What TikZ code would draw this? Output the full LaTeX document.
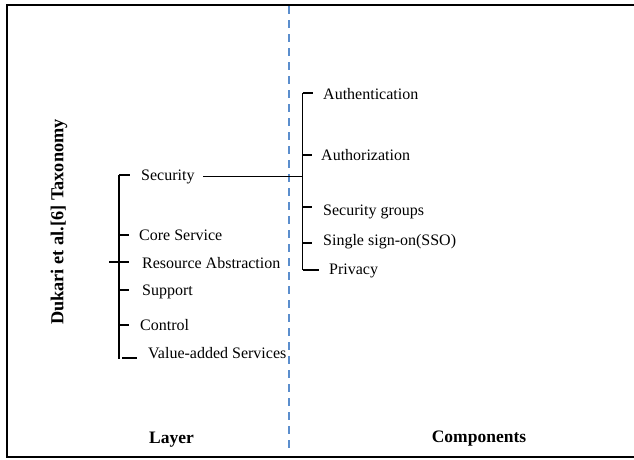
\documentclass[tikz,border=0pt]{standalone}
\usepackage{fontspec}
\setmainfont{Liberation Serif}
\definecolor{dashblue}{RGB}{91,142,205}
\begin{document}
\begin{tikzpicture}[x=1pt,y=-1pt,
  lbl/.style={anchor=base west, inner sep=0pt, font=\fontsize{16}{18}\selectfont},
  head/.style={inner sep=0pt, font=\fontsize{17.5}{20}\selectfont\bfseries},
  tree/.style={line width=1.9pt, black},
  frameline/.style={line width=2pt, black},
  divider/.style={dashblue, line width=1.6pt, dash pattern=on 8pt off 6pt}]
\useasboundingbox (0,0) rectangle (634,459);
% frame
\draw[frameline] (634,5) -- (7,5) -- (7,457) -- (634,457);
% divider
\coordinate (dtop) at (289,6);
\coordinate (dbot) at (289,452);
\draw[divider] (dtop) -- (dbot);
% title and headings
\node[head, font=\fontsize{18.3}{20}\selectfont\bfseries, rotate=90] (title) at (59,222) {Dukari et al.[6] Taxonomy};
\node[head, anchor=base] (layer) at (171.5,443) {Layer};
\node[head, anchor=base] (comp) at (479,442) {Components};
% left labels
\node[lbl] (sec) at (141,180) {Security};
\node[lbl] (core) at (139,240.5) {Core Service};
\node[lbl] (res) at (142,268.3) {Resource Abstraction};
\node[lbl] (sup) at (142,295.5) {Support};
\node[lbl] (ctl) at (140,330.5) {Control};
\node[lbl] (val) at (148,358.3) {Value-added Services};
% right labels
\node[lbl] (auth) at (323,99.3) {Authentication};
\node[lbl] (authz) at (321,160.7) {Authorization};
\node[lbl] (secg) at (323,215.3) {Security groups};
\node[lbl] (sso) at (323,245.7) {Single sign-on(SSO)};
\node[lbl] (priv) at (329,274.7) {Privacy};
% left tree
\coordinate (ltop) at (119,174.7);
\coordinate (lbot) at (119,359);
\draw[tree] (ltop) -- (lbot);
\coordinate (tsec) at (130,174.7);
\coordinate (tcore0) at (119,235);   \coordinate (tcore) at (129,235);
\coordinate (tres0) at (109,262);    \coordinate (tres) at (129,262);
\coordinate (tsup0) at (119,290);    \coordinate (tsup) at (129,290);
\coordinate (tctl0) at (119,325);    \coordinate (tctl) at (129,325);
\coordinate (tval0) at (122,358);    \coordinate (tval) at (137,358);
\draw[tree] (ltop) -- (tsec);
\draw[tree] (tcore0) -- (tcore);
\draw[tree] (tres0) -- (tres);
\draw[tree] (tsup0) -- (tsup);
\draw[tree] (tctl0) -- (tctl);
\draw[tree] (tval0) -- (tval);
% right tree
\coordinate (rtop) at (302.5,93);
\coordinate (rbot) at (302.5,270);
\draw[tree] (rtop) -- (rbot);
\coordinate (tauth) at (313,93);
\coordinate (tauthz0) at (302.5,155);  \coordinate (tauthz) at (312,155);
\coordinate (tsecg0) at (302.5,206.7); \coordinate (tsecg) at (312,206.7);
\coordinate (tsso0) at (302.5,243.3);  \coordinate (tsso) at (312,243.3);
\coordinate (tpriv) at (319,270);
\draw[tree] (rtop) -- (tauth);
\draw[tree] (tauthz0) -- (tauthz);
\draw[tree] (tsecg0) -- (tsecg);
\draw[tree] (tsso0) -- (tsso);
\draw[tree] (rbot) -- (tpriv);
% security link
\coordinate (secR) at (203,176.5);
\coordinate (rmid) at (302.5,176.5);
\draw[tree] (secR) -- (rmid);
\end{tikzpicture}
\end{document}
